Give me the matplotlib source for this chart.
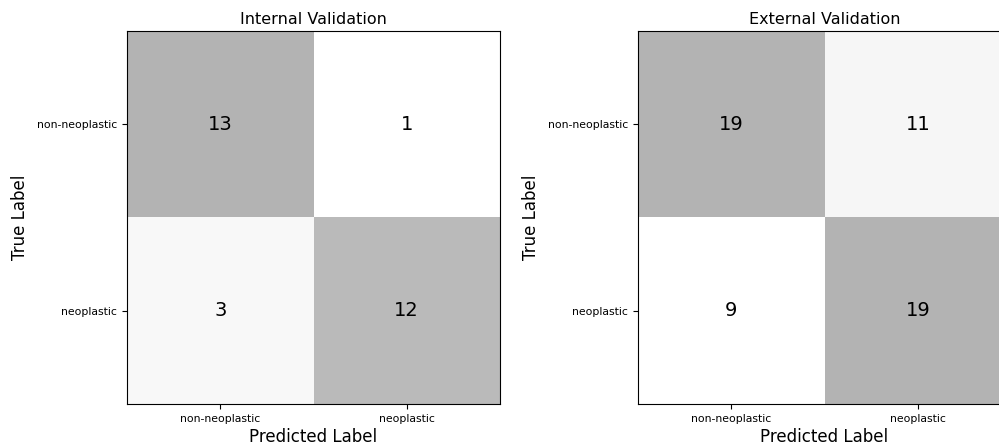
import numpy as np
import matplotlib
matplotlib.use("Agg")
import matplotlib.pyplot as plt

# ======================
# Data
# ======================
class_names = ["non-neoplastic", "neoplastic"]
titles = ["Internal Validation", "External Validation"]
cm_internal = np.array([[13, 1],
                        [3, 12]])
cm_external = np.array([[19, 11],
                        [9, 19]])

# ======================
# Plot
# ======================
fig = plt.figure(figsize=(9.99, 4.48), dpi=100)

W, H = 999, 448
lefts = [127, 638]
top, bottom, size = 31, 404, 373

for left, cm, title in zip(lefts, [cm_internal, cm_external], titles):
    ax = fig.add_axes([left / W, (H - bottom) / H, size / W, size / H])
    ax.imshow(cm, cmap=plt.cm.Greys, alpha=0.3, aspect="auto")
    for i in range(cm.shape[0]):
        for j in range(cm.shape[1]):
            ax.text(j, i, str(cm[i, j]), ha="center", va="center", fontsize=14)
    ax.set_xticks(range(len(class_names)))
    ax.set_yticks(range(len(class_names)))
    ax.set_xticklabels(class_names, fontsize=7.8)
    ax.set_yticklabels(class_names, fontsize=7.8)
    ax.set_title(title, fontsize=11.5, pad=5)
    ax.set_xlabel("Predicted Label", fontsize=12, labelpad=3)
    ax.set_ylabel("True Label", fontsize=12, labelpad=6)

fig.savefig("out.png", dpi=100)
